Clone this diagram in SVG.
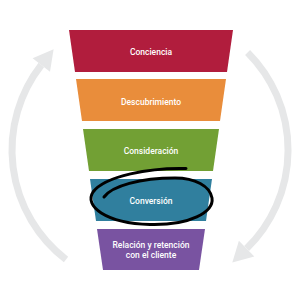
<svg xmlns="http://www.w3.org/2000/svg" width="300" height="300" viewBox="0 0 300 300">
<style>
.lbl{font-family:Roboto,"Liberation Sans",sans-serif;font-size:8.5px;font-weight:500;fill:#fff;text-anchor:middle}
.arc{fill:none;stroke:#E6E7E8;stroke-width:7;stroke-linecap:butt}
.head{fill:#E6E7E8}
</style>
<rect width="300" height="300" fill="#fff"/>
<g id="connectors">
<path class="arc" d="M66,259.5 A138,138 0 0 1 41.3,65"/>
<polygon class="head" points="53.6,49.2 32.6,58.2 50,71.8"/>
<path class="arc" d="M247.6,52.4 A138,138 0 0 1 246.6,248.6"/>
<polygon class="head" points="232.3,262.6 254.3,256.5 238.9,240.7"/>
</g>
<g id="conciencia">
<polygon points="69,30 233,30 227,72 75,72" fill="#B11D3D"/>
<text class="lbl" x="151" y="54.5">Conciencia</text>
</g>
<g id="descubrimiento">
<polygon points="76,79 226,79 220,121 82,121" fill="#E98D3B"/>
<text class="lbl" x="151" y="104.5">Descubrimiento</text>
</g>
<g id="consideracion">
<polygon points="83,129 219,129 213,171 89,171" fill="#72A034"/>
<text class="lbl" x="151" y="154">Consideración</text>
</g>
<g id="conversion">
<polygon points="90,179 212,179 206,221 96,221" fill="#307F9E"/>
<text class="lbl" x="151" y="204">Conversión</text>
<path d="M186,168.5 C150,167.5 105,176 93,192 C84,206 105,223 150,224.5 C190,225.5 214,212 212,198 C210,186 195,178 175,178 C140,178 112,186 104,197" fill="none" stroke="#000" stroke-width="3" stroke-linecap="round"/>
</g>
<g id="relacion">
<polygon points="97,229 205,229 199,270 103,270" fill="#7953A1"/>
<text class="lbl" x="151" y="247.5">Relación y retención</text>
<text class="lbl" x="151" y="257.5">con el cliente</text>
</g>
</svg>
